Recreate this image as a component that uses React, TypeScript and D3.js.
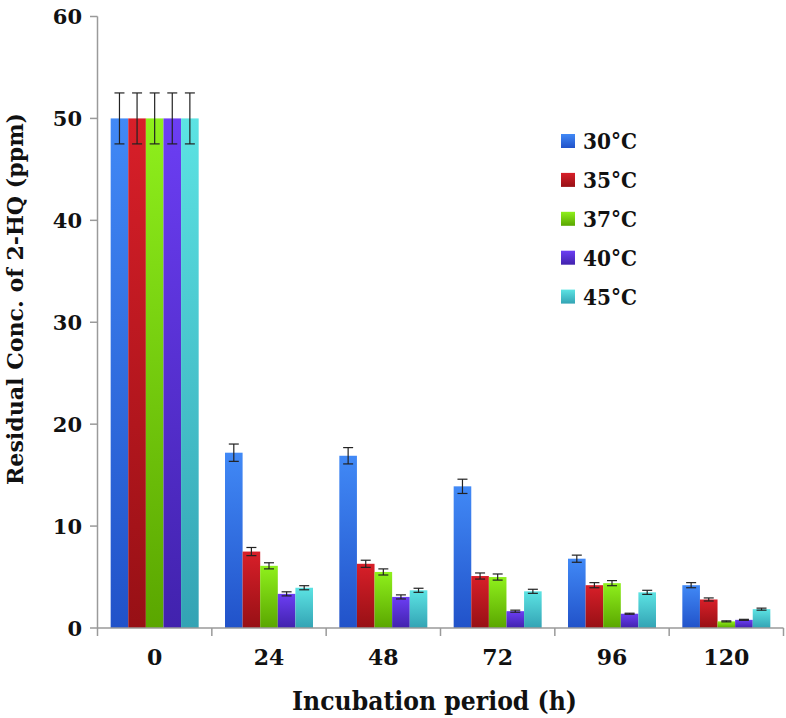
import React from "react";
import * as d3 from "d3";

const categories = ["0", "24", "48", "72", "96", "120"];
const seriesNames = ["30°C", "35°C", "37°C", "40°C", "45°C"];
const values30 = [50, 17.2, 16.9, 13.9, 6.8, 4.2];
const values35 = [50, 7.5, 6.3, 5.1, 4.2, 2.8];
const values37 = [50, 6.1, 5.5, 5.0, 4.4, 0.65];
const values40 = [50, 3.35, 3.05, 1.65, 1.4, 0.8];
const values45 = [50, 3.95, 3.7, 3.6, 3.5, 1.85];
const err30 = [2.5, 0.85, 0.8, 0.7, 0.35, 0.25];
const err35 = [2.5, 0.4, 0.35, 0.3, 0.25, 0.15];
const err37 = [2.5, 0.3, 0.3, 0.3, 0.25, 0.05];
const err40 = [2.5, 0.2, 0.2, 0.1, 0.05, 0.05];
const err45 = [2.5, 0.2, 0.2, 0.2, 0.2, 0.1];
const yTicks = [0, 10, 20, 30, 40, 50, 60];

const seriesValues = [values30, values35, values37, values40, values45];
const seriesErrors = [err30, err35, err37, err40, err45];
const gradients = [
  ["#4189f6", "#2152c9"],
  ["#d81f29", "#971015"],
  ["#8ff01c", "#5aa600"],
  ["#6c3ef4", "#4122ad"],
  ["#5ce3e3", "#33a3b4"],
];

export default function App() {
  const W = 786, H = 718;
  const x0 = d3.scaleBand<string>().domain(categories).range([97.5, 783.5]).padding(0);
  const bw = x0.bandwidth();
  const x1 = d3.scaleBand<string>().domain(seriesNames).range([(bw - 88) / 2, (bw + 88) / 2]).padding(0);
  const y = d3.scaleLinear().domain([0, 60]).range([628, 16.5]);
  const axisColor = "#9a9a9a";
  const font = "'DejaVu Serif', serif";

  return (
    <svg width={W} height={H} style={{ position: "absolute", left: 0, top: 0 }}>
      <defs>
        {gradients.map((g, i) => (
          <linearGradient key={i} id={`g${i}`} x1="0" y1="0" x2="0" y2="1">
            <stop offset="0%" stopColor={g[0]} />
            <stop offset="100%" stopColor={g[1]} />
          </linearGradient>
        ))}
      </defs>
      <rect width={W} height={H} fill="#fff" />
      {categories.map((c, ci) => (
        <g key={c} transform={`translate(${x0(c)},0)`}>
          {seriesNames.map((s, si) => {
            const v = seriesValues[si][ci];
            const e = seriesErrors[si][ci];
            const bx = x1(s)!;
            const cx = bx + x1.bandwidth() / 2;
            return (
              <g key={s}>
                <rect x={bx} y={y(v)} width={x1.bandwidth()} height={y(0) - y(v)} fill={`url(#g${si})`} />
                <line x1={cx} x2={cx} y1={y(v + e)} y2={y(v - e)} stroke="#222" strokeWidth={1.2} />
                <line x1={cx - 5} x2={cx + 5} y1={y(v + e)} y2={y(v + e)} stroke="#222" strokeWidth={1.2} />
                <line x1={cx - 5} x2={cx + 5} y1={y(v - e)} y2={y(v - e)} stroke="#222" strokeWidth={1.2} />
              </g>
            );
          })}
        </g>
      ))}
      {/* axes */}
      <line x1={97.5} x2={97.5} y1={y(60)} y2={y(0)} stroke={axisColor} strokeWidth={1.5} />
      <line x1={97.5} x2={783.5} y1={y(0)} y2={y(0)} stroke={axisColor} strokeWidth={1.5} />
      {yTicks.map((t) => (
        <g key={t}>
          <line x1={90} x2={97.5} y1={y(t)} y2={y(t)} stroke={axisColor} strokeWidth={1.5} />
          <text x={82} y={y(t)} dy="0.36em" textAnchor="end" fontFamily={font} fontWeight="bold" fontSize={21} fill="#111">
            {t}
          </text>
        </g>
      ))}
      {categories.map((c) => (
        <line key={c} x1={x0(c)! + bw} x2={x0(c)! + bw} y1={y(0)} y2={y(0) + 8} stroke={axisColor} strokeWidth={1.5} />
      ))}
      <line x1={97.5} x2={97.5} y1={y(0)} y2={y(0) + 8} stroke={axisColor} strokeWidth={1.5} />
      {categories.map((c) => (
        <text key={c} x={x0(c)! + bw / 2} y={665} textAnchor="middle" fontFamily={font} fontWeight="bold" fontSize={22} fill="#111">
          {c}
        </text>
      ))}
      <text x={434.5} y={710} textAnchor="middle" fontFamily={font} fontWeight="bold" fontSize={26} fill="#111" textLength={285} lengthAdjust="spacingAndGlyphs">
        Incubation period (h)
      </text>
      <text transform="translate(23,299) rotate(-90)" textAnchor="middle" fontFamily="'DejaVu Serif Condensed', 'DejaVu Serif', serif" fontWeight="bold" fontSize={22} fill="#111" textLength={372} lengthAdjust="spacingAndGlyphs">
        Residual Conc. of 2-HQ (ppm)
      </text>
      {/* legend */}
      {seriesNames.map((s, si) => (
        <g key={s} transform={`translate(561,${141 + si * 38.9})`}>
          <rect x={0} y={-7} width={14} height={14} fill={`url(#g${si})`} />
          <text x={22} y={0} dy="0.36em" fontFamily={font} fontWeight="bold" fontSize={22} fill="#111" textLength={54} lengthAdjust="spacingAndGlyphs">
            {s}
          </text>
        </g>
      ))}
    </svg>
  );
}
